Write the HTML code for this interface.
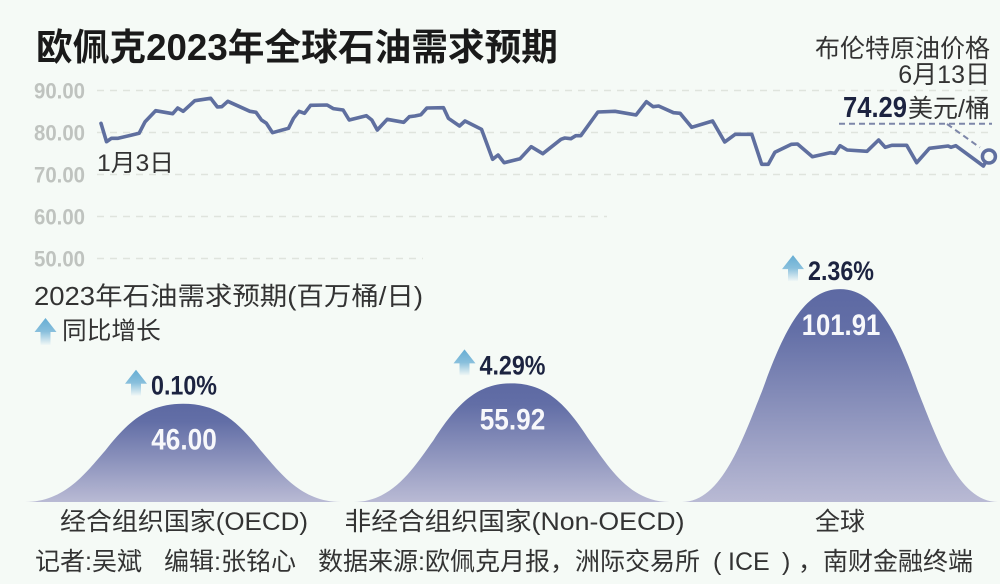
<!DOCTYPE html>
<html lang="zh">
<head>
<meta charset="utf-8">
<title>欧佩克2023年全球石油需求预期</title>
<style>
html,body{margin:0;padding:0;background:#f5faf6;}
svg{display:block;}
text{font-family:"Liberation Sans","Noto Sans CJK SC",sans-serif;}
</style>
</head>
<body>
<svg id="chart" xmlns="http://www.w3.org/2000/svg" width="1000" height="584" viewBox="0 0 1000 584">
  <defs>
    <linearGradient id="hillFill" x1="0" y1="0" x2="0" y2="1">
      <stop offset="0" stop-color="#5d69a3"/>
      <stop offset="0.18" stop-color="#626ea6"/>
      <stop offset="1" stop-color="#b9bad4"/>
    </linearGradient>
    <linearGradient id="arrowFill" x1="0" y1="0" x2="0" y2="1">
      <stop offset="0" stop-color="#66add3"/>
      <stop offset="0.5" stop-color="#88bfdc"/>
      <stop offset="1" stop-color="#f0f7f6"/>
    </linearGradient>
  </defs>
  <rect width="1000" height="584" fill="#f5faf6"/>
  <text x="36" y="60" font-size="36.7" font-weight="700" fill="#1a1a1a" textLength="522" lengthAdjust="spacingAndGlyphs">欧佩克2023年全球石油需求预期</text>
  <g id="grid"></g>
  <g id="ticks"></g>
  <polyline id="priceLine" fill="none" stroke="#5f6f9f" stroke-width="3.6" stroke-linejoin="round" stroke-linecap="round"/>
  <text x="97" y="171" font-size="24" fill="#333" textLength="77" lengthAdjust="spacingAndGlyphs">1月3日</text>
  <text x="990" y="57" font-size="25" fill="#333" text-anchor="end">布伦特原油价格</text>
  <text x="990" y="83" font-size="25" fill="#333" text-anchor="end">6月13日</text>
  <text id="endPrice" x="843" y="117" font-size="29" font-weight="700" fill="#1c2340" textLength="64" lengthAdjust="spacingAndGlyphs"></text>
  <text x="990" y="117" font-size="25" fill="#333" text-anchor="end">美元/桶</text>
  <line x1="839" y1="123.7" x2="992" y2="123.7" stroke="#7d86a8" stroke-width="2" stroke-dasharray="6 4"/>
  <line id="leader" x1="947" y1="124" stroke="#7d86a8" stroke-width="2" stroke-dasharray="6 4"/>
  <circle id="endMarker" r="6.5" fill="#f5faf6" stroke="#5f6f9f" stroke-width="3.5"/>
  <text x="34" y="305" font-size="25.5" fill="#333" textLength="389" lengthAdjust="spacingAndGlyphs">2023年石油需求预期(百万桶/日)</text>
  <path d="M45.5 318 L56.5 332 L50.5 332 L50.5 345 L40.5 345 L40.5 332 L34.5 332 Z" fill="url(#arrowFill)"/>
  <text x="62" y="339" font-size="24.7" fill="#333">同比增长</text>
  <g id="hills"></g>
  <text y="570" font-size="25" fill="#333"><tspan x="35">记者:吴斌</tspan><tspan x="164">编辑:张铭心</tspan><tspan x="318">数据来源:欧佩克月报，洲际交易所</tspan><tspan x="713">(</tspan><tspan x="728">ICE</tspan><tspan x="782">)</tspan><tspan x="798">，南财金融终端</tspan></text>
</svg>
<script>
var priceDays = [0,1,1.9,3.1,5.6,6.9,8,9.9,13,13.9,14.9,17,19.9,21.1,21.9,23,27,28.1,29.1,30,31.1,34,34.9,35.9,36.9,38,41,42.1,43.9,45,48.1,49.1,50.1,51.9,54.9,55.9,56.9,58,59.1,62.1,63,65,66,69,71,72,73.1,76,78,80.1,83.4,84.1,85.2,86.1,87,90.1,93.2,97,98.9,100.1,101.1,103.8,105,107.1,110.9,113.1,115,118,119.8,121,122.2,125.2,126.3,129,132.2,133.1,134,135.3,138.9,141,142.2,143.4,146.1,147.9,150.2,153.6,154.1,155,160,161];
var priceValues = [82.19,77.81,78.62,78.62,79.4,79.81,82.57,85.19,84.48,85.83,85.05,87.57,88.14,86.07,86.14,87.43,85.05,84.81,82.98,82.19,79.95,81,83.38,85.05,84.57,86.48,86.55,85.7,85.36,82.98,84,82.98,80.6,83.14,82.43,83.76,83.93,84.24,85.83,85.9,83.38,81.55,82.74,80.76,73.62,74.64,72.81,73.76,76.62,74.95,78.38,78.69,78.52,79.24,79.24,84.88,85.05,84.17,87.33,86.14,86.31,84.71,84.57,81.24,82.74,77.74,79.57,79.57,72.43,72.43,75.29,77.19,77.26,74.24,75.19,75.05,76.86,75.83,75.52,78.21,76.48,76.95,76.95,72.81,76.24,76.79,76.48,76.86,72.02,74.29];
var priceTicks = [90,80,70,60,50];
var priceTickLabels = ["90.00","80.00","70.00","60.00","50.00"];
var hillCategories = ["经合组织国家(OECD)","非经合组织国家(Non-OECD)","全球"];
var hillValues = [46.00,55.92,101.91];
var hillValueLabels = ["46.00","55.92","101.91"];
var hillGrowthLabels = ["0.10%","4.29%","2.36%"];

var SVGNS = "http://www.w3.org/2000/svg";
function xPrice(d){ return 101 + d * 5.515; }
function yPrice(p){ return 90.5 + (90 - p) * 4.2; }
function hillCenter(i){ return 183 + i * 328.5; }
function hillHeight(v){ return 4 + v * 2.05; }
function gridRight(t){ return t >= 70 ? 992 : (t >= 60 ? 607 : 423); }
function make(tag, parent, attrs, txt){
  var el = document.createElementNS(SVGNS, tag);
  for (var k in attrs) el.setAttribute(k, attrs[k]);
  if (txt !== undefined) el.textContent = txt;
  parent.appendChild(el);
  return el;
}

var grid = document.getElementById("grid");
var ticks = document.getElementById("ticks");
priceTicks.forEach(function(t, i){
  var ln = make("line", grid, {x1:97, x2:gridRight(t), y1:yPrice(t), y2:yPrice(t), stroke:"#dfe4dd", "stroke-width":1.5, "stroke-dasharray":"7 6"});
  
  
  var lb = make("text", ticks, {x:34, y:yPrice(t)+8, "font-size":22, "font-weight":700, fill:"#bfc3bf", textLength:51, lengthAdjust:"spacingAndGlyphs"}, priceTickLabels[i]);
  
  
});

var pts = priceDays.map(function(d, i){ return xPrice(d).toFixed(1) + "," + yPrice(priceValues[i]).toFixed(1); });
document.getElementById("priceLine").setAttribute("points", pts.join(" "));

var lastIdx = priceValues.length - 1;
var mx = xPrice(priceDays[lastIdx]), my = yPrice(priceValues[lastIdx]);
var marker = document.getElementById("endMarker");
marker.setAttribute("cx", mx);
marker.setAttribute("cy", my);
var leader = document.getElementById("leader");
leader.setAttribute("x2", mx - 9);
leader.setAttribute("y2", my - 9);
document.getElementById("endPrice").textContent = priceValues[lastIdx].toFixed(2);

var hills = document.getElementById("hills");
var BASE = 502, HALF = 158;
hillValues.forEach(function(v, i){
  var c = hillCenter(i), h = hillHeight(v), top = BASE - h;
  function X(o){ return (c + o).toFixed(1); }
  function Y(f){ return (BASE - f * h).toFixed(1); }
  var d = "M" + X(-HALF) + " " + BASE +
    " C" + X(-118) + " " + BASE + " " + X(-97) + " " + Y(0.3) + " " + X(-78) + " " + Y(0.52) +
    " C" + X(-55) + " " + Y(0.82) + " " + X(-35) + " " + Y(1) + " " + X(0) + " " + Y(1) +
    " C" + X(35) + " " + Y(1) + " " + X(55) + " " + Y(0.82) + " " + X(78) + " " + Y(0.52) +
    " C" + X(97) + " " + Y(0.3) + " " + X(118) + " " + BASE + " " + X(HALF) + " " + BASE + " Z";
  var hill = make("path", hills, {d:d, fill:"url(#hillFill)"});
  
  

  var val = make("text", hills, {x:c+1, y:top+46, "font-size":30, "font-weight":700, fill:"#f7f8fb", "text-anchor":"middle", textLength:hillValueLabels[i].length*13.1, lengthAdjust:"spacingAndGlyphs"}, hillValueLabels[i]);
  
  

  var ax = c - 47, ay = top - 34;
  var arrow = make("path", hills, {d:"M"+ax+" "+ay+" l11 14 l-6 0 l0 12 l-10 0 l0 -12 l-6 0 Z", fill:"url(#arrowFill)"});
  
  

  var gr = make("text", hills, {x:c+1, y:top-9, "font-size":27, "font-weight":700, fill:"#1c2340", "text-anchor":"middle", textLength:66, lengthAdjust:"spacingAndGlyphs"}, hillGrowthLabels[i]);
  
  

  var cat = make("text", hills, {x:c+(i===1?3:(i===0?1:0)), y:530, "font-size":25, fill:"#333", "text-anchor":"middle"}, hillCategories[i]);
  
  
  if (i === 0) { cat.setAttribute("textLength", 248); cat.setAttribute("lengthAdjust", "spacingAndGlyphs"); }
  if (i === 1) { cat.setAttribute("textLength", 340); cat.setAttribute("lengthAdjust", "spacingAndGlyphs"); }
});
</script>
</body>
</html>
